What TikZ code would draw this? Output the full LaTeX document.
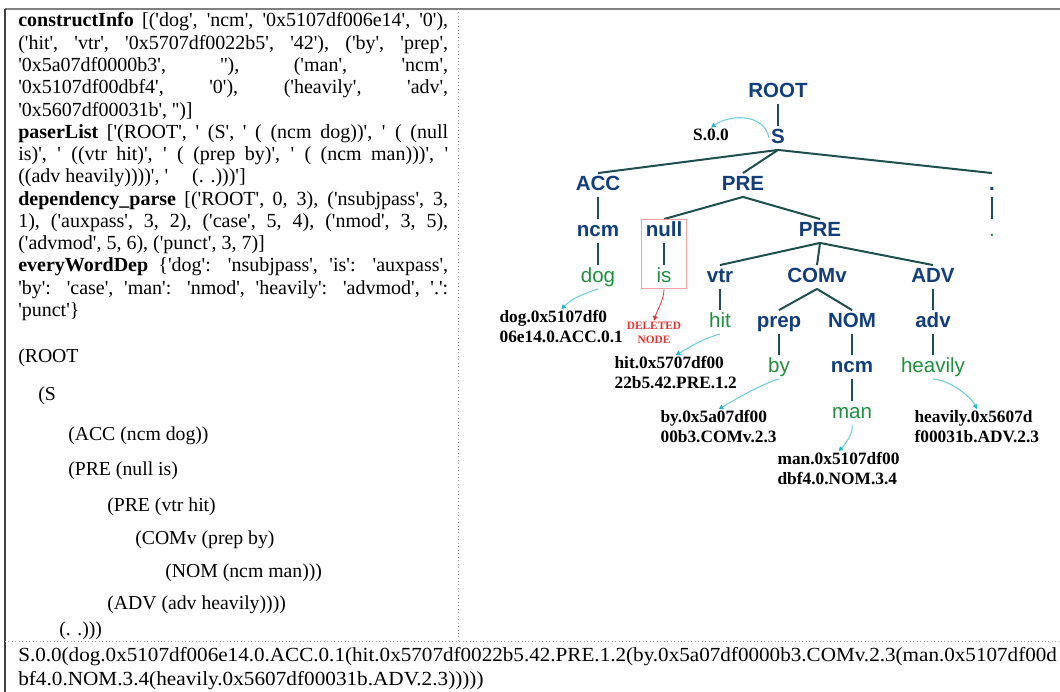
\documentclass[tikz,border=0pt]{standalone}
\usepackage{fontspec}
\setmainfont{Liberation Serif}[Ligatures=TeXOff]
\newfontfamily\treefont{Liberation Sans}
\usepackage{graphicx}
\usetikzlibrary{arrows.meta,fit}
\definecolor{catblue}{HTML}{123E7C}
\definecolor{wordgreen}{HTML}{1E8F3E}
\definecolor{edgeteal}{HTML}{1F4E4F}
\definecolor{refcyan}{HTML}{6FCFDE}
\definecolor{refhead}{HTML}{21B6CC}
\definecolor{delred}{HTML}{E8322E}
\definecolor{boxpink}{HTML}{F2A3A3}
\definecolor{rulegray}{HTML}{808080}
\definecolor{dotgray}{HTML}{A0A0A0}
\tikzset{
  para/.style={text width=322.5pt,align=justify,inner sep=0pt,
               font=\fontsize{15}{16.7}\selectfont},
  code/.style={inner sep=0pt,font=\fontsize{14.8}{16.7}\selectfont},
  chain/.style={inner sep=0pt,font=\fontsize{15}{16.7}\selectfont},
  cat/.style={font=\treefont\bfseries\fontsize{15.4}{17}\selectfont,
              text=catblue,inner sep=1.5pt,text height=11.5pt,text depth=3pt},
  word/.style={cat,font=\treefont\mdseries\fontsize{15.4}{17}\selectfont,
               text=wordgreen},
  tag/.style={font=\bfseries\fontsize{13}{15}\selectfont,align=left,
              inner sep=1pt},
  deltag/.style={font=\bfseries\fontsize{8.5}{10.5}\selectfont,align=center,
                 text=delred,inner sep=1pt},
  delbox/.style={draw=boxpink,line width=0.8pt,inner xsep=1.5pt,inner ysep=0pt},
  edge/.style={draw=edgeteal,line width=1.5pt},
  ref/.style={-{Triangle[length=3.5pt,width=3.5pt,color=refhead]},
              draw=refcyan,line width=0.8pt},
  delarr/.style={-{Triangle[length=3.5pt,width=3.5pt]},draw=delred,
                 line width=0.6pt}
}
\begin{document}
\begin{tikzpicture}[x=0.75pt,y=-0.75pt]
  \useasboundingbox (0,0) rectangle (1060,692);
  % table rules
  \draw[rulegray,line width=1.5pt] (5,9) -- (1060,9);
  \draw[black!75,line width=1pt] (5,9) -- (5,692);
  \draw[dotgray,line width=0.6pt,dotted] (458,9) -- (458,641);
  \draw[dotgray,line width=0.6pt,dotted] (5,641) -- (1060,641);

  % left cell: parser output
  \node[para,anchor=base west] (info) at (18,27)
    {\textbf{constructInfo} [('dog', 'ncm', '0x5107df006e14', '0'),\linebreak
     ('hit', 'vtr', '0x5707df0022b5', '42'), ('by', 'prep',\linebreak
     '0x5a07df0000b3', ''), ('man', 'ncm',\linebreak
     '0x5107df00dbf4', '0'), ('heavily', 'adv',\linebreak
     '0x5607df00031b', '')]\par
     \textbf{paserList} ['(ROOT', ' (S', ' ( (ncm dog))', ' ( (null\linebreak
     is)', ' ((vtr hit)', ' ( (prep by)', ' ( (ncm man)))', '\linebreak
     ((adv heavily))))', '\hspace{1.2em}(. .)))']\par
     \textbf{dependency\_parse} [('ROOT', 0, 3), ('nsubjpass', 3,\linebreak
     1), ('auxpass', 3, 2), ('case', 5, 4), ('nmod', 3, 5),\linebreak
     ('advmod', 5, 6), ('punct', 3, 7)]\par
     \textbf{everyWordDep} \{'dog': 'nsubjpass', 'is': 'auxpass',\linebreak
     'by': 'case', 'man': 'nmod', 'heavily': 'advmod', '.':\linebreak
     'punct'\}};
  \node[code,anchor=base west] (lroot) at (18,362) {(ROOT};
  \node[code,anchor=base west] (ls) at (38,400) {(S};
  \node[code,anchor=base west] (lacc) at (68,440) {(ACC (ncm dog))};
  \node[code,anchor=base west] (lpre) at (68,475) {(PRE (null is)};
  \node[code,anchor=base west] (lpreb) at (107,511) {(PRE (vtr hit)};
  \node[code,anchor=base west] (lcomv) at (135,544) {(COMv (prep by)};
  \node[code,anchor=base west] (lnom) at (165,577) {(NOM (ncm man)))};
  \node[code,anchor=base west] (ladv) at (107,609) {(ADV (adv heavily))))};
  \node[code,anchor=base west] (lpunct) at (59,635) {(. .)))};

  % bottom cell: flattened string
  \node[chain,anchor=base west] (flat1) at (18,661)
    {\resizebox{779pt}{\height}{S.0.0(dog.0x5107df006e14.0.ACC.0.1(hit.0x5707df0022b5.42.PRE.1.2(by.0x5a07df0000b3.COMv.2.3(man.0x5107df00d}};
  \node[chain,anchor=base west] (flat2) at (18,685)
    {\resizebox{349pt}{\height}{bf4.0.NOM.3.4(heavily.0x5607df00031b.ADV.2.3)))))}};

  % right cell: tree
  \node[cat] (root) at (778,92) {ROOT};
  \node[cat] (s) at (778,138) {S};
  \node[cat] (acc) at (598,185) {ACC};
  \node[cat] (pre) at (743,185) {PRE};
  \node[cat] (pt) at (992,185) {.};
  \node[cat] (ncm) at (598,231) {ncm};
  \node[cat] (null) at (664,231) {null};
  \node[cat] (preb) at (820,231) {PRE};
  \node[word] (ptw) at (992,231) {.};
  \node[word] (dog) at (598,277) {dog};
  \node[word] (is) at (664,277) {is};
  \node[cat] (vtr) at (720,277) {vtr};
  \node[cat] (comv) at (817,277) {COMv};
  \node[cat] (advp) at (933,277) {ADV};
  \node[word] (hit) at (720,322) {hit};
  \node[cat] (prep) at (779,322) {prep};
  \node[cat] (nom) at (852,322) {NOM};
  \node[cat] (adv) at (933,322) {adv};
  \node[word] (by) at (779,367) {by};
  \node[cat] (ncmb) at (852,367) {ncm};
  \node[word] (heavily) at (933,367) {heavily};
  \node[word] (man) at (852,413) {man};

  \foreach \a/\b in {root/s,s/acc,s/pre,s/pt,acc/ncm,ncm/dog,pre/null,
      pre/preb,null/is,pt/ptw,preb/vtr,preb/comv,preb/advp,vtr/hit,
      comv/prep,comv/nom,advp/adv,prep/by,nom/ncmb,adv/heavily,ncmb/man}
    \draw[edge] (\a.south) -- (\b.north);

  \node[delbox,fit=(null)(is)] (del) {};

  % address tags
  \node[tag] (s00) at (711,135) {S.0.0};
  \node[tag,anchor=west] (dogtag) at (498,327) {dog.0x5107df0\\06e14.0.ACC.0.1};
  \node[tag,anchor=west] (hittag) at (613,373) {hit.0x5707df00\\22b5.42.PRE.1.2};
  \node[tag,anchor=west] (bytag) at (659,427) {by.0x5a07df00\\00b3.COMv.2.3};
  \node[tag,anchor=west] (mantag) at (776,469) {man.0x5107df00\\dbf4.0.NOM.3.4};
  \node[tag,anchor=west] (heavtag) at (913,427) {heavily.0x5607d\\f00031b.ADV.2.3};
  \node[deltag] (deltxt) at (654,333) {DELETED\\NODE};

  \draw[ref] (s.west) .. controls +(-4,-24) and +(20,-14) .. (s00.north);
  \draw[ref] (dog.south) .. controls +(-18,6) and +(10,-10) .. (dogtag.north);
  \draw[ref] (hit.south) .. controls +(-20,6) and +(14,-8) .. (hittag.north);
  \draw[ref] (by.south) .. controls +(-20,6) and +(14,-8) .. (bytag.north);
  \draw[ref] (man.south) .. controls +(2,8) and +(6,-6) .. (mantag.north);
  \draw[ref] (heavily.south) .. controls +(20,2) and +(-4,-10) .. (heavtag.north);
  \draw[delarr] (del.south) .. controls +(0,10) and +(3,-10) .. (deltxt.north);
\end{tikzpicture}
\end{document}
